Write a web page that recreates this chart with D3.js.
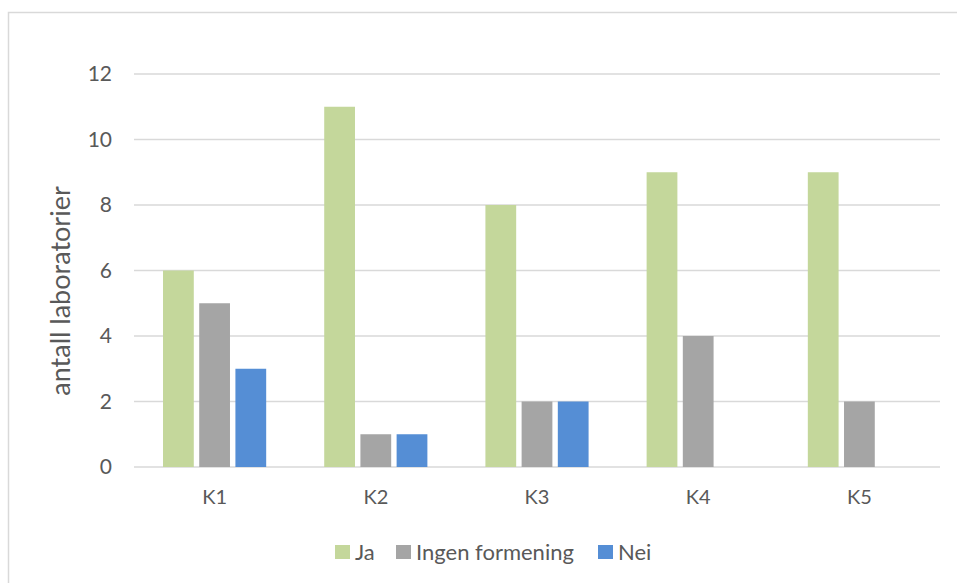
<!DOCTYPE html>
<html>
<head>
<meta charset="utf-8">
<script src="https://cdn.jsdelivr.net/npm/d3@7"></script>
<style>
  html, body { margin: 0; padding: 0; background: #fff; }
  svg { display: block; font-family: Lato, "Open Sans", sans-serif; }
</style>
</head>
<body>
<svg id="chart" width="957" height="583"></svg>
<script>
// Survey answers per question, number of laboratories
const categories = ["K1", "K2", "K3", "K4", "K5"];
const seriesNames = ["Ja", "Ingen formening", "Nei"];
const ja = [6, 11, 8, 9, 9];
const ingenFormening = [5, 1, 2, 4, 2];
const nei = [3, 1, 2, 0, 0];
const yTicks = [0, 2, 4, 6, 8, 10, 12];
const yTitle = "antall laboratorier";

const colors = ["#c4d79b", "#a5a5a5", "#558ed5"];
const seriesValues = [ja, ingenFormening, nei];
const textColor = "#595959";

const svg = d3.select("#chart");
const plot = { left: 134, right: 940, top: 74, bottom: 467 };

// outer chart frame
svg.append("rect")
  .attr("x", 8.5).attr("y", 12.5)
  .attr("width", 980).attr("height", 600)
  .attr("fill", "none").attr("stroke", "#d9d9d9").attr("stroke-width", 1.5);

const x0 = d3.scaleBand().domain(categories)
  .range([plot.left, plot.right]).paddingInner(0.36).paddingOuter(0.18);
const x1 = d3.scaleBand().domain(seriesNames)
  .range([0, x0.bandwidth()]).paddingInner(0.15);
const y = d3.scaleLinear().domain([0, 12]).range([plot.bottom, plot.top]);

// horizontal gridlines
svg.append("g").selectAll("line").data(yTicks).join("line")
  .attr("x1", plot.left).attr("x2", plot.right)
  .attr("y1", d => y(d)).attr("y2", d => y(d))
  .attr("stroke", "#d9d9d9").attr("stroke-width", 1.5);

// y axis labels
const yAxis = d3.axisLeft(y).tickValues(yTicks).tickSize(0).tickPadding(0);
svg.append("g").attr("transform", `translate(112,0)`).call(yAxis)
  .call(g => g.select(".domain").remove())
  .call(g => g.selectAll("text")
    .attr("fill", textColor).attr("font-size", 21)
    .attr("font-family", "Lato, sans-serif"));

// x axis labels
const xAxis = d3.axisBottom(x0).tickSize(0).tickPadding(0);
svg.append("g").attr("transform", `translate(0,${plot.bottom + 23})`).call(xAxis)
  .call(g => g.select(".domain").remove())
  .call(g => g.selectAll("text")
    .attr("fill", textColor).attr("font-size", 20)
    .attr("font-family", "Lato, sans-serif"));

// bars
const groups = svg.append("g").selectAll("g").data(categories).join("g")
  .attr("transform", d => `translate(${x0(d)},0)`);
groups.selectAll("rect")
  .data((c, i) => seriesNames.map((s, j) => ({ s, j, v: seriesValues[j][i] })))
  .join("rect")
  .filter(d => d.v > 0)
  .attr("x", d => x1(d.s))
  .attr("width", x1.bandwidth())
  .attr("y", d => y(d.v))
  .attr("height", d => y(0) - y(d.v))
  .attr("fill", d => colors[d.j]);

// y axis title
svg.append("text")
  .attr("transform", "translate(70,291) rotate(-90)")
  .attr("text-anchor", "middle")
  .attr("fill", textColor).attr("font-size", 27)
  .text(yTitle);

// legend
const legendX = [335, 396, 598];
const legend = svg.append("g").selectAll("g").data(seriesNames).join("g")
  .attr("transform", (d, i) => `translate(${legendX[i]},545)`);
legend.append("rect").attr("width", 15).attr("height", 14)
  .attr("fill", (d, i) => colors[i]);
legend.append("text").attr("x", 20).attr("y", 15)
  .attr("fill", textColor).attr("font-size", 22)
  .text(d => d);
</script>
</body>
</html>
